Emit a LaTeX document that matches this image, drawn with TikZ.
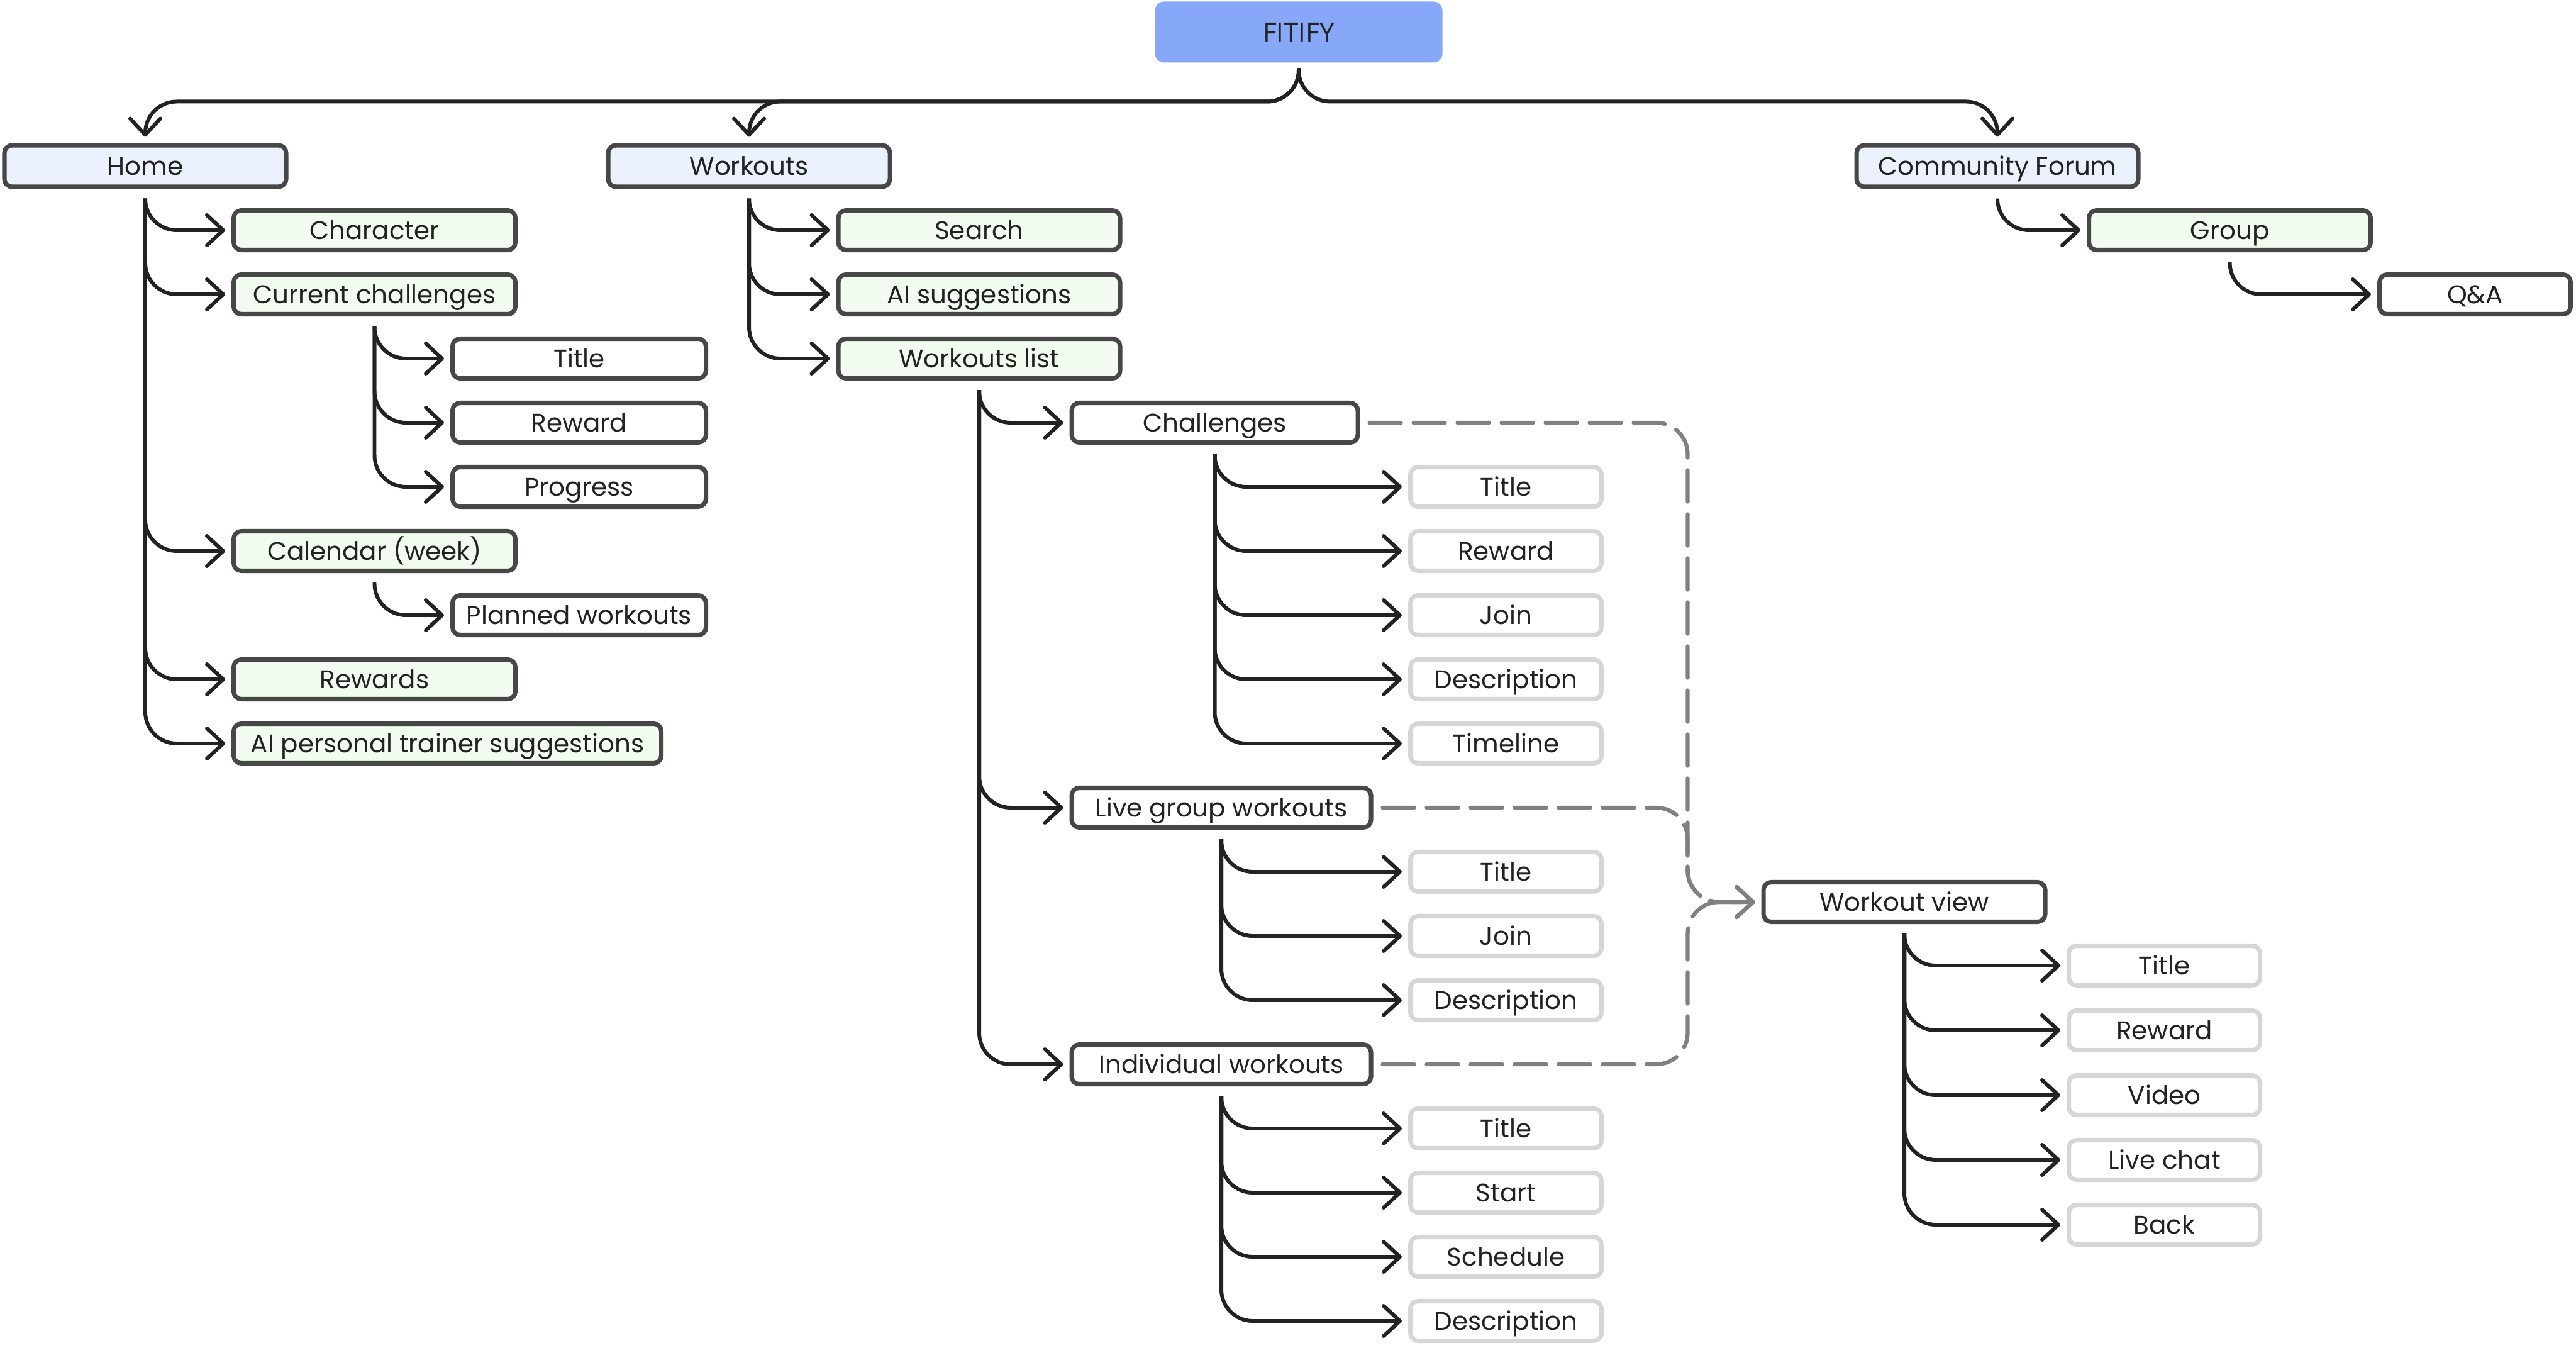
\documentclass[tikz,border=0pt]{standalone}
\usepackage{fontspec}
\setmainfont{Poppins}
\newfontfamily\logofont{Open Sans}
\usepackage{tikz}
\usetikzlibrary{positioning, arrows.meta}

\definecolor{logoblue}{HTML}{87A7F8}
\definecolor{topfill}{HTML}{EBF2FE}
\definecolor{greenfill}{HTML}{F2FCF0}
\definecolor{boxline}{HTML}{474747}
\definecolor{lightline}{HTML}{D6D6D6}
\definecolor{ink}{HTML}{222222}
\definecolor{dashgray}{HTML}{808080}

\begin{document}
\begin{tikzpicture}[node distance=1.02cm, on grid,
    box/.style={rectangle, rounded corners=3.5pt, draw=boxline, line width=2pt, inner sep=0pt,
                minimum width=4.48cm, minimum height=0.63cm, text=ink, text height=8pt, text depth=0pt,
                font=\fontsize{11.5}{14}\selectfont},
    mainbox/.style={box, fill=topfill, minimum height=0.66cm},
    subbox/.style={box, fill=greenfill},
    plainbox/.style={box, fill=white},
    leafbox/.style={box, fill=white, draw=lightline, minimum width=3.04cm},
    arr/.style={draw=ink, line width=1.7pt, rounded corners=0.5cm, shorten >=1mm,
                -{Straight Barb[length=2.6mm, width=4.8mm, round]}},
    branch/.style={to path={([yshift=-1.5mm]\tikztostart.south) |- (\tikztotarget.west)}},
    drop/.style={to path={([yshift=-0.8mm]\tikztostart.south) |- ([yshift=6.6mm]\tikztotarget.north) -- (\tikztotarget.north)}},
    dashlink/.style={draw=dashgray, line width=1.8pt, line cap=round, dash pattern=on 5mm off 2mm,
                rounded corners=0.5cm, shorten >=1mm, -{Straight Barb[length=2.6mm, width=4.8mm, round]}},
    merge/.style={to path={([xshift=1.5mm]\tikztostart.east) -| ([xshift=-11.7mm]\tikztotarget.west) -- (\tikztotarget.west)}}
  ]
    \useasboundingbox (0,0) rectangle (40.96,-21.43);

    % top level
    \node[rectangle, rounded corners=4pt, fill=logoblue, minimum width=4.57cm, minimum height=0.97cm,
          text=ink, font=\logofont\fontsize{12}{14}\selectfont] (fitify) at (20.65,-0.51) {FITIFY};
    \node[mainbox] (home) at (2.31,-2.64) {Home};
    \node[mainbox] (wk)   at (11.91,-2.64) {Workouts};
    \node[mainbox] (cf)   at (31.76,-2.64) {Community Forum};

    % home
    \node[subbox] (char) at (5.955,-3.66) {Character};
    \node[subbox] (cc)   [below=of char] {Current challenges};
    \node[subbox] (cal)  [below=4.08 of cc] {Calendar (week)};
    \node[subbox] (rwd)  [below=2.04 of cal] {Rewards};
    \node[subbox, minimum width=6.8cm, anchor=west] (aipt) at (3.68,-11.82) {AI personal trainer suggestions};

    \node[plainbox, minimum width=4.03cm] (cctitle) at (9.21,-5.70) {Title};
    \node[plainbox, minimum width=4.03cm] (ccrew)  [below=of cctitle] {Reward};
    \node[plainbox, minimum width=4.03cm] (ccprog) [below=of ccrew] {Progress};
    \node[plainbox, minimum width=4.03cm] (plan)   at (9.21,-9.78) {Planned workouts};

    % workouts
    \node[subbox] (search) at (15.57,-3.66) {Search};
    \node[subbox] (aisug)  [below=of search] {AI suggestions};
    \node[subbox] (wlist)  [below=of aisug] {Workouts list};

    \node[plainbox, minimum width=4.55cm] (chal)  at (19.315,-6.72) {Challenges};
    \node[plainbox, minimum width=4.76cm] (live)  at (19.42,-12.84) {Live group workouts};
    \node[plainbox, minimum width=4.76cm] (indiv) at (19.42,-16.92) {Individual workouts};

    \node[leafbox] (chtitle) at (23.945,-7.74) {Title};
    \node[leafbox] (chrew)   [below=of chtitle] {Reward};
    \node[leafbox] (chjoin)  [below=of chrew] {Join};
    \node[leafbox] (chdesc)  [below=of chjoin] {Description};
    \node[leafbox] (chtime)  [below=of chdesc] {Timeline};

    \node[leafbox] (lvtitle) at (23.945,-13.86) {Title};
    \node[leafbox] (lvjoin)  [below=of lvtitle] {Join};
    \node[leafbox] (lvdesc)  [below=of lvjoin] {Description};

    \node[leafbox] (intitle) at (23.945,-17.94) {Title};
    \node[leafbox] (instart) [below=of intitle] {Start};
    \node[leafbox] (insched) [below=of instart] {Schedule};
    \node[leafbox] (indesc)  [below=of insched] {Description};

    % workout view
    \node[plainbox] (wv) at (30.28,-14.34) {Workout view};
    \node[leafbox] (wvtitle) at (34.415,-15.35) {Title};
    \node[leafbox] (wvrew)   [below=1.03 of wvtitle] {Reward};
    \node[leafbox] (wvvid)   [below=1.03 of wvrew] {Video};
    \node[leafbox] (wvchat)  [below=1.03 of wvvid] {Live chat};
    \node[leafbox] (wvback)  [below=1.03 of wvchat] {Back};

    % community forum
    \node[subbox] (group) at (35.455,-3.66) {Group};
    \node[plainbox, minimum width=3.04cm] (qa) at (39.355,-4.68) {Q\&A};

    \path[arr]
        (fitify) edge[drop] (home)
        (fitify) edge[drop] (wk)
        (fitify) edge[drop] (cf)

        (home) edge[branch] (char)
        (home) edge[branch] (cc)
        (home) edge[branch] (cal)
        (home) edge[branch] (rwd)
        (home) edge[branch] (aipt)
        (cc) edge[branch] (cctitle)
        (cc) edge[branch] (ccrew)
        (cc) edge[branch] (ccprog)
        (cal) edge[branch] (plan)

        (wk) edge[branch] (search)
        (wk) edge[branch] (aisug)
        (wk) edge[branch] (wlist)
        (wlist) edge[branch] (chal)
        (wlist) edge[branch] (live)
        (wlist) edge[branch] (indiv)

        (chal) edge[branch] (chtitle)
        (chal) edge[branch] (chrew)
        (chal) edge[branch] (chjoin)
        (chal) edge[branch] (chdesc)
        (chal) edge[branch] (chtime)
        (live) edge[branch] (lvtitle)
        (live) edge[branch] (lvjoin)
        (live) edge[branch] (lvdesc)
        (indiv) edge[branch] (intitle)
        (indiv) edge[branch] (instart)
        (indiv) edge[branch] (insched)
        (indiv) edge[branch] (indesc)

        (wv) edge[branch] (wvtitle)
        (wv) edge[branch] (wvrew)
        (wv) edge[branch] (wvvid)
        (wv) edge[branch] (wvchat)
        (wv) edge[branch] (wvback)

        (cf) edge[branch] (group)
        (group) edge[branch] (qa);

    \path[dashlink]
        (chal) edge[merge] (wv)
        (live) edge[merge] (wv)
        (indiv) edge[merge] (wv);
\end{tikzpicture}
\end{document}
